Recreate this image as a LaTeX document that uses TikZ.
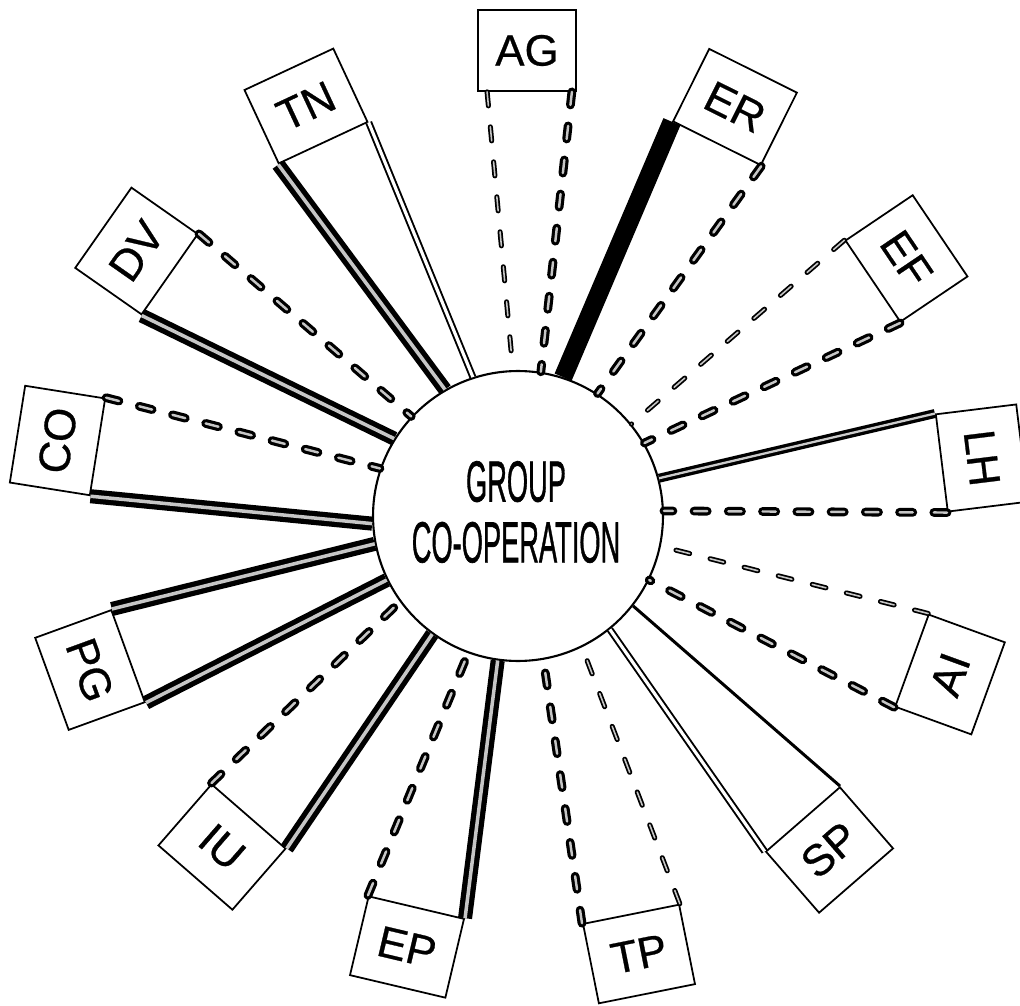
\documentclass[tikz,border=0pt]{standalone}
\usepackage{fontspec}
\usetikzlibrary{calc}
\setmainfont{Liberation Sans}
\newfontfamily\centrefont[FakeBold=1.2]{Liberation Sans}
\newfontfamily\boxfont[FakeBold=0.6]{Liberation Sans}
\begin{document}
\begin{tikzpicture}[x=0.02cm,y=-0.02cm,
  lbl/.style={draw, line width=1pt, minimum width=1.96cm, minimum height=1.62cm, inner sep=0pt, font=\boxfont\fontsize{25}{30}\selectfont},
  heavy/.style={line width=10.5pt, line cap=butt},
  dblheavy/.style={double=gray!45, line width=3pt, double distance=2pt},
  dblmid/.style={double=gray!40, line width=1.9pt, double distance=1.3pt},
  dbllight/.style={double=white, line width=1.1pt, double distance=1.8pt},
  thinsolid/.style={line width=1.7pt},
  dashthick/.style={double=gray!45, line width=1.8pt, double distance=1.4pt, line cap=round, dash pattern=on 7.5pt off 12pt},
  dashthin/.style={double=gray!45, line width=1pt, double distance=0.9pt, line cap=round, dash pattern=on 8pt off 12pt},
]
\useasboundingbox (0,0) rectangle (1020,1006);

% centre
\node[circle, draw, line width=1.2pt, minimum size=5.8cm, inner sep=0pt] (C) at (518,516) {};
\node[xscale=0.47, align=center, font=\centrefont\fontsize{33}{34.6}\selectfont, inner sep=0pt] (T) at (516,512) {GROUP\\CO-OPERATION};

% boxes
\node[lbl, rotate=0]    (AG) at (527,50.5)   {AG};
\node[lbl, rotate=-26.5](ER) at (735,107)    {ER};
\node[lbl, rotate=-56]  (EF) at (906.5,258.5){EF};
\node[lbl, rotate=-83]  (LH) at (982,458)    {LH};
\node[lbl, rotate=70]   (AI) at (950,674.5)  {AI};
\node[lbl, rotate=41]   (SP) at (829.5,850)  {SP};
\node[lbl, rotate=11.3] (TP) at (639,954)    {TP};
\node[lbl, rotate=-13.3](EP) at (407,947)    {EP};
\node[lbl, rotate=-41]  (IU) at (222,847)    {IU};
\node[lbl, rotate=-70]  (PG) at (90,670)     {PG};
\node[lbl, rotate=81]   (CO) at (57.5,440.5) {CO};
\node[lbl, rotate=55]   (DV) at (136.5,251)  {DV};
\node[lbl, rotate=25]   (TN) at (306,106)    {TN};

% connectors
\coordinate (ag1) at ($(AG.south west)!0.1!(AG.south east)$);
\coordinate (ag2) at ($(AG.south east)!0.05!(AG.south west)$);
\draw[dashthin]  (ag1) -- (C.92);
\draw[dashthick] (ag2) -- (C.81);
\draw[heavy]     (ER.south west) -- (C.72);
\draw[dashthick] (ER.south east) -- (C.57);
\draw[dashthin]  (EF.south west) -- (C.39.5);
\draw[dashthick] (EF.south east) -- (C.30);
\draw[dblmid]    (LH.south west) -- (C.15);
\draw[dashthick] (LH.south east) -- (C.2);
\draw[dashthin]  (AI.north east) -- (C.-12);
\draw[dashthick] (AI.north west) -- (C.-26);
\draw[thinsolid] (SP.north east) -- (C.-38.3);
\draw[dbllight]  (SP.north west) -- (C.-51.6);
\draw[dashthin]  (TP.north east) -- (C.-64.7);
\draw[dashthick] (TP.north west) -- (C.-80);
\draw[dblheavy]  (EP.north east) -- (C.-98.4);
\draw[dashthick] (EP.north west) -- (C.-110);
\draw[dblheavy]  (IU.north east) -- (C.234.6);
\draw[dashthick] (IU.north west) -- (C.216);
\draw[dblheavy]  (PG.north east) -- (C.206);
\draw[dblheavy]  (PG.north west) -- (C.191.7);
\draw[dblheavy]  (CO.south west) -- (C.183);
\draw[dashthick] (CO.south east) -- (C.161);
\draw[dblheavy]  (DV.south west) -- (C.148.3);
\draw[dashthick] (DV.south east) -- (C.137.8);
\draw[dblheavy]  (TN.south west) -- (C.120.7);
\draw[dbllight]  (TN.south east) -- (C.108);
\end{tikzpicture}
\end{document}
